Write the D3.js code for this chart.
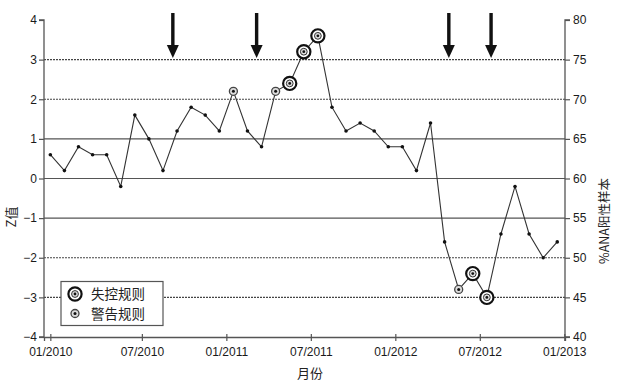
<!DOCTYPE html>
<html>
<head>
<meta charset="utf-8">
<script src="https://cdn.jsdelivr.net/npm/d3@7"></script>
<style>
  body { margin: 0; background: #fff; }
  text { font-family: "Liberation Sans", Arial, "Noto Sans CJK SC", sans-serif; }
  .cjk { font-family: "Noto Sans CJK SC", sans-serif; }
</style>
</head>
<body>
<div id="chart"></div>
<script>
const WIDTH = 619;
const HEIGHT = 390;

// month index 0 = 01/2010 ... 36 = 01/2013
const zValues = [0.6, 0.2, 0.8, 0.6, 0.6, -0.2, 1.6, 1.0, 0.2, 1.2, 1.8, 1.6, 1.2, 2.2, 1.2, 0.8,
  2.2, 2.4, 3.2, 3.6, 1.8, 1.2, 1.4, 1.2, 0.8, 0.8, 0.2, 1.4, -1.6, -2.8, -2.4, -3.0, -1.4, -0.2,
  -1.4, -2.0, -1.6];
const warningIdx = [13, 16, 29];
const controlIdx = [17, 18, 19, 30, 31];
const arrowAt = [8.7, 14.65, 28.3, 31.3];

const xTickPos = [0, 6.5, 12.5, 18.5, 24.5, 30.5, 36.5];
const xTickLabels = ["01/2010", "07/2010", "01/2011", "07/2011", "01/2012", "07/2012", "01/2013"];
const zTicks = [-4, -3, -2, -1, 0, 1, 2, 3, 4];
const pctTicks = [40, 45, 50, 55, 60, 65, 70, 75, 80];
const solidLines = [-1, 0, 1];
const dashedLines = [-3, -2, 2, 3];

const svg = d3.select("#chart").append("svg")
  .attr("width", WIDTH)
  .attr("height", HEIGHT);

const x = d3.scaleLinear().domain([-0.45, 36.55]).range([44, 565]);
const y = d3.scaleLinear().domain([-4, 4]).range([337, 20]);
const yR = d3.scaleLinear().domain([40, 80]).range([337, 20]);

// grid lines
svg.selectAll(".gs").data(solidLines).enter().append("line")
  .attr("x1", x.range()[0]).attr("x2", x.range()[1])
  .attr("y1", d => y(d)).attr("y2", d => y(d))
  .attr("stroke", "#555").attr("stroke-width", 1.2);

svg.selectAll(".gd").data(dashedLines).enter().append("line")
  .attr("x1", x.range()[0]).attr("x2", x.range()[1])
  .attr("y1", d => y(d)).attr("y2", d => y(d))
  .attr("stroke", "#444").attr("stroke-width", 1.2)
  .attr("stroke-dasharray", "2,1");

// axes
const axL = svg.append("g").attr("transform", `translate(${x.range()[0]},0)`)
  .call(d3.axisLeft(y).tickValues(zTicks).tickSize(5).tickPadding(2).tickFormat(d3.format("d")));
const axR = svg.append("g").attr("transform", `translate(${x.range()[1]},0)`)
  .call(d3.axisRight(yR).tickValues(pctTicks).tickSize(5).tickPadding(3));
const axB = svg.append("g").attr("transform", `translate(0,${y(-4)})`)
  .call(d3.axisBottom(x).tickValues(xTickPos).tickSize(4).tickPadding(6)
    .tickFormat((d, i) => xTickLabels[i]));
axB.selectAll(".tick line").attr("y1", -3);

[axL, axR, axB].forEach(g => {
  g.select(".domain").attr("stroke", "#555").attr("stroke-width", 1.3);
  g.selectAll(".tick line").attr("stroke", "#555").attr("stroke-width", 1.2);
  g.selectAll(".tick text").attr("fill", "#1a1a1a").style("font-size", "12px")
    .style("font-family", "'Liberation Sans', Arial, sans-serif");
});
axL.select(".domain").attr("d", `M-5,${y(4)}H0V${y(-4)}H-5`);
axR.select(".domain").attr("d", `M5,${y(4)}H0V${y(-4)}H5`);

// data line
const line = d3.line().x((d, i) => x(i)).y(d => y(d));
svg.append("path").datum(zValues)
  .attr("d", line)
  .attr("fill", "none")
  .attr("stroke", "#333")
  .attr("stroke-width", 1.1);

svg.selectAll(".pt").data(zValues).enter().append("circle")
  .attr("cx", (d, i) => x(i)).attr("cy", d => y(d))
  .attr("r", 1.8).attr("fill", "#111");

// warning markers
function warning(g) {
  g.append("circle").attr("r", 4).attr("fill", "#ddd").attr("stroke", "#444").attr("stroke-width", 1.3);
  g.append("circle").attr("r", 1.5).attr("fill", "#111");
}
function control(g) {
  g.append("circle").attr("r", 6.6).attr("fill", "#fff").attr("stroke", "#111").attr("stroke-width", 2.2);
  g.append("circle").attr("r", 3.4).attr("fill", "#ddd").attr("stroke", "#333").attr("stroke-width", 1);
  g.append("circle").attr("r", 1.4).attr("fill", "#111");
}

warningIdx.forEach(i => {
  svg.append("g").attr("transform", `translate(${x(i)},${y(zValues[i])})`).call(warning);
});
controlIdx.forEach(i => {
  svg.append("g").attr("transform", `translate(${x(i)},${y(zValues[i])})`).call(control);
});

// arrows
arrowAt.forEach(a => {
  const ax = x(a);
  const g = svg.append("g").attr("transform", `translate(${ax},0)`);
  g.append("rect").attr("x", -1.7).attr("y", 13).attr("width", 3.4).attr("height", 34).attr("fill", "#111");
  g.append("path").attr("d", "M-6,45L6,45L0,58Z").attr("fill", "#111");
});

// legend
const lg = svg.append("g").attr("transform", "translate(61,281.5)");
lg.append("rect").attr("width", 102).attr("height", 44)
  .attr("fill", "#fff").attr("stroke", "#555").attr("stroke-width", 1.2);
lg.append("g").attr("transform", "translate(14,12.5)").call(control);
lg.append("g").attr("transform", "translate(14,32)").call(warning);
lg.append("text").attr("class", "cjk").attr("x", 30).attr("y", 17.5)
  .style("font-size", "13.5px").attr("fill", "#222").text("失控规则");
lg.append("text").attr("class", "cjk").attr("x", 30).attr("y", 37.5)
  .style("font-size", "13.5px").attr("fill", "#222").text("警告规则");

// axis titles
svg.append("text").attr("class", "cjk")
  .attr("transform", "translate(16,217) rotate(-90)")
  .attr("text-anchor", "middle")
  .style("font-size", "13px").attr("fill", "#222").text("Z值");

svg.append("text").attr("class", "cjk")
  .attr("transform", "translate(609,221) rotate(-90)")
  .attr("text-anchor", "middle")
  .style("font-size", "12.5px").attr("fill", "#222").text("%ANA阳性样本");

svg.append("text").attr("class", "cjk")
  .attr("x", 310).attr("y", 378)
  .attr("text-anchor", "middle")
  .style("font-size", "13px").attr("fill", "#222").text("月份");
</script>
</body>
</html>
